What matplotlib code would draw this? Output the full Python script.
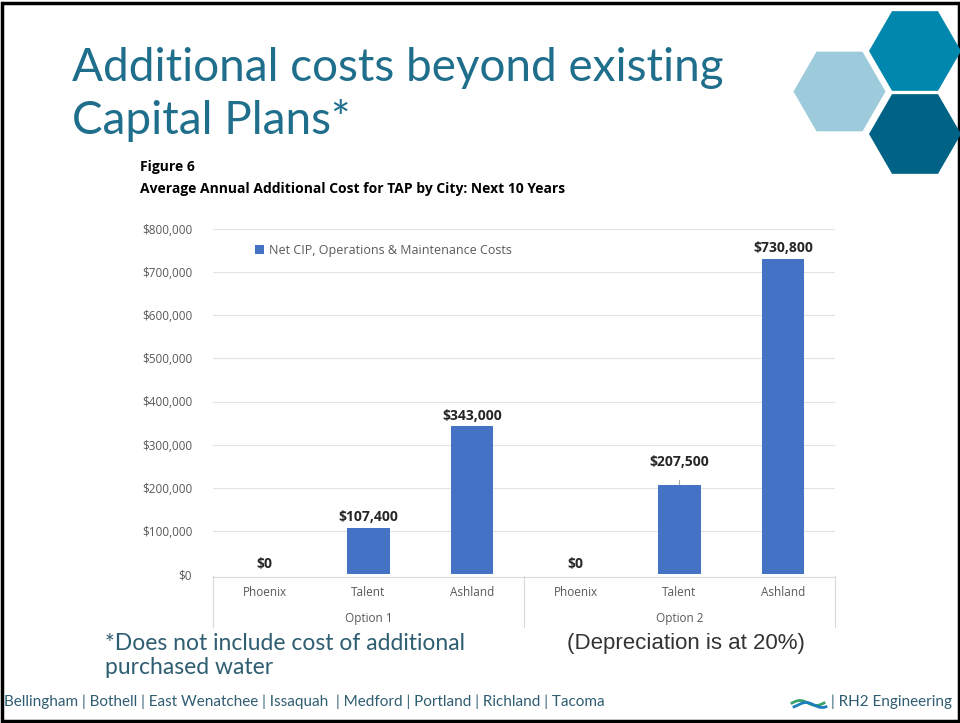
import matplotlib
matplotlib.use("Agg")
import matplotlib.pyplot as plt
import matplotlib.transforms as mtransforms
from matplotlib.patches import RegularPolygon, Rectangle
import numpy as np

# ---------------- data ----------------
cities = ["Phoenix", "Talent", "Ashland", "Phoenix", "Talent", "Ashland"]
options = ["Option 1", "Option 2"]
values = [0, 107400, 343000, 0, 207500, 730800]
value_labels = ["$0", "$107,400", "$343,000", "$0", "$207,500", "$730,800"]
yticks = [0, 100000, 200000, 300000, 400000, 500000, 600000, 700000, 800000]
ytick_labels = ["$0", "$100,000", "$200,000", "$300,000", "$400,000",
                "$500,000", "$600,000", "$700,000", "$800,000"]
series_name = "Net CIP, Operations & Maintenance Costs"

W, H = 960, 723
fig = plt.figure(figsize=(W / 100, H / 100), dpi=100)
fig.patch.set_facecolor("white")

# background overlay in pixel coords
fax = fig.add_axes([0, 0, 1, 1])
fax.set_xlim(0, W)
fax.set_ylim(H, 0)
fax.axis("off")

TEAL = "#1f6e8c"
FOOT = "#2f5d72"
CF = "Open Sans"

# border
fax.add_patch(Rectangle((1.5, 2.5), W - 3, H - 5, fill=False, ec="black", lw=2.5))

# title
fax.text(72, 68, "Additional costs beyond existing", fontsize=33, color=TEAL,
         family="Lato", va="center", ha="left")
fax.text(72, 120, "Capital Plans*", fontsize=33, color=TEAL,
         family="Lato", va="center", ha="left")

# hexagons
r = 46
for (cx, cy), col in [((839.5, 91.5), "#9dcbdc"), ((915, 51), "#0087ad"),
                      ((915, 134), "#006385")]:
    fax.add_patch(RegularPolygon((cx, cy), 6, radius=r, orientation=np.pi / 6,
                                 fc=col, ec="none"))

# figure heading
fax.text(140, 167, "Figure 6", fontsize=10, weight="bold", color="black",
         family=CF, va="center")
fax.text(140, 189, "Average Annual Additional Cost for TAP by City: Next 10 Years",
         fontsize=10, weight="bold", color="black", family=CF, va="center")

# notes
fax.text(105, 643, "*Does not include cost of additional", fontsize=16.5, color=FOOT,
         family="Lato", va="center")
fax.text(105, 668, "purchased water", fontsize=16.5, color=FOOT,
         family="Lato", va="center")
fax.text(567, 644, "(Depreciation is at 20%)", fontsize=16, color="#333333",
         family="Liberation Sans", va="center")

# footer
fax.text(4, 702, "Bellingham | Bothell | East Wenatchee | Issaquah  | Medford | Portland | Richland | Tacoma",
         fontsize=11, color=FOOT, family="Lato", va="center")
fax.text(952, 702, "| RH2 Engineering", fontsize=11, color=FOOT, family="Lato",
         va="center", ha="right")
t = np.linspace(0, 1, 50)
fax.plot(792 + 32 * t, 703 - 2.5 * np.sin(2 * np.pi * t), color="#3aa36a", lw=2)
fax.plot(794 + 32 * t, 705 - 2.5 * np.sin(2 * np.pi * t - 0.8), color="#1b7fbf", lw=2)

# ---------------- chart ----------------
left, right = 213 / W, 835 / W
bottom, top = 1 - 574 / H, 1 - 229 / H
ax = fig.add_axes([left, bottom, right - left, top - bottom])
ax.set_facecolor("none")
x = np.arange(len(cities))
BAR = "#4472c4"
ax.bar(x, values, width=0.41, color=BAR, label=series_name, zorder=3)
ax.set_xlim(-0.5, len(cities) - 0.5)
ax.set_ylim(0, 800000)
ax.set_yticks(yticks)
ax.set_yticklabels(ytick_labels, fontsize=8.5, color="#595959", family=CF)
ax.tick_params(axis="y", length=0, pad=15)
ax.grid(axis="y", color="#e3e3e3", lw=0.8, zorder=0)
for s in ["top", "right", "left"]:
    ax.spines[s].set_visible(False)
ax.spines["bottom"].set_color("#d9d9d9")
ax.spines["bottom"].set_position(("outward", 2))
ax.set_xticks(x)
ax.set_xticklabels(cities, fontsize=8.5, color="#595959", family=CF)
ax.tick_params(axis="x", length=0, pad=7)

# value labels
for i, (v, lab) in enumerate(zip(values, value_labels)):
    if i == 4:
        ax.annotate(lab, xy=(i, v), xytext=(0, 16), textcoords="offset points",
                    ha="center", va="center", fontsize=10, weight="bold",
                    color="#262626", family=CF,
                    arrowprops=dict(arrowstyle="-", color="#a6a6a6", lw=0.8,
                                    shrinkA=6, shrinkB=0))
    else:
        ax.annotate(lab, xy=(i, v), xytext=(0, 7.5), textcoords="offset points",
                    ha="center", va="center", fontsize=10, weight="bold",
                    color="#262626", family=CF)

# option labels + separators
trans = mtransforms.blended_transform_factory(ax.transData, ax.transAxes)
for k, opt in enumerate(options):
    ax.text(3 * k + 1, -0.128, opt, transform=trans, ha="center", va="center",
            fontsize=8.5, color="#595959", family=CF)
for xs in [-0.5, 2.5, 5.5]:
    ax.plot([xs, xs], [-0.006, -0.155], transform=trans, color="#d9d9d9",
            lw=0.8, clip_on=False)

leg = ax.legend(loc="upper left", bbox_to_anchor=(0.05, 0.99), frameon=False,
                prop={"family": CF, "size": 9}, handlelength=0.7,
                handleheight=0.7, handletextpad=0.4)
for txt in leg.get_texts():
    txt.set_color("#595959")

fig.savefig("out.png", dpi=100, facecolor="white")
